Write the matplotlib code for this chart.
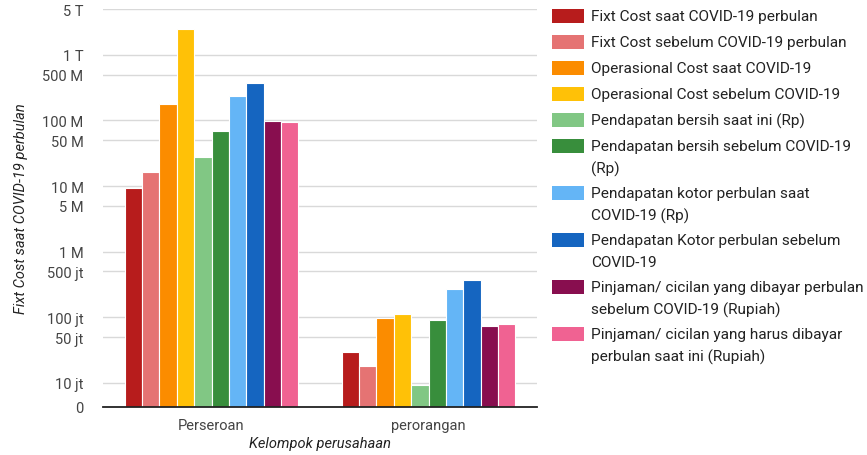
import matplotlib
matplotlib.use("Agg")
import matplotlib.pyplot as plt
from matplotlib.patches import Rectangle
import numpy as np

plt.rcParams['font.family'] = ['Roboto', 'DejaVu Sans']

# Data (Rupiah per bulan)
kelompok = ['Perseroan', 'perorangan']
seri = [
    'Fixt Cost saat COVID-19 perbulan',
    'Fixt Cost sebelum COVID-19 perbulan',
    'Operasional Cost saat COVID-19',
    'Operasional Cost sebelum COVID-19',
    'Pendapatan bersih saat ini (Rp)',
    'Pendapatan bersih sebelum COVID-19\n(Rp)',
    'Pendapatan kotor perbulan saat\nCOVID-19 (Rp)',
    'Pendapatan Kotor perbulan sebelum\nCOVID-19',
    'Pinjaman/ cicilan yang dibayar perbulan\nsebelum COVID-19 (Rupiah)',
    'Pinjaman/ cicilan yang harus dibayar\nperbulan saat ini (Rupiah)',
]
perseroan = [9.2e9, 1.63e10, 1.8e11, 2.5e12, 2.8e10, 7.0e10, 2.4e11, 3.7e11, 9.8e10, 9.5e10]
perorangan = [2.95e7, 1.83e7, 9.9e7, 1.11e8, 9.3e6, 9.0e7, 2.7e8, 3.7e8, 7.5e7, 7.8e7]
warna = ['#B71C1C', '#E57373', '#FB8C00', '#FFC107', '#81C784',
         '#388E3C', '#64B5F6', '#1565C0', '#880E4F', '#F06292']

y_bawah = 4.3e6
tick_nilai = [y_bawah, 1e7, 5e7, 1e8, 5e8, 1e9, 5e9, 1e10, 5e10, 1e11, 5e11, 1e12, 5e12]
tick_label = ['0', '10 jt', '50 jt', '100 jt', '500 jt', '1 M', '5 M',
              '10 M', '50 M', '100 M', '500 M', '1 T', '5 T']

W, H = 867, 456
fig = plt.figure(figsize=(W / 100, H / 100), dpi=100)
ax = fig.add_axes([103 / W, 1 - 408 / H, (537 - 103) / W, (408 - 10) / H])

nilai = np.array([perseroan, perorangan])  # (kelompok, seri)
lebar = 0.08
x = np.arange(len(kelompok))
for i in range(len(seri)):
    ax.bar(x + (i - 4.5) * lebar, nilai[:, i], width=lebar, color=warna[i],
           edgecolor='white', linewidth=0.8, zorder=3)

ax.set_yscale('log')
ax.set_ylim(y_bawah, 5e12)
ax.set_xlim(-0.5, 1.5)
ax.set_yticks(tick_nilai)
ax.set_yticklabels(tick_label)
ax.minorticks_off()
ax.set_xticks(x)
ax.set_xticklabels(kelompok)
ax.tick_params(length=0, labelsize=10.5, colors='#444444')
ax.tick_params(axis='y', pad=14)
ax.tick_params(axis='x', pad=8)
ax.yaxis.grid(True, color='#d9d9d9', linewidth=1, zorder=0)
for s in ['top', 'right', 'left']:
    ax.spines[s].set_visible(False)
ax.spines['bottom'].set_color('#222222')
ax.spines['bottom'].set_linewidth(1.3)
ax.spines['bottom'].set_zorder(5)

ax.set_ylabel('Fixt Cost saat COVID-19 perbulan', fontstyle='italic',
              fontsize=10.5, color='#222222', labelpad=10)
ax.set_xlabel('Kelompok perusahaan', fontstyle='italic', fontsize=10.5,
              color='#222222', labelpad=3)

# Legenda manual di kanan
y_px = 17
for i, label in enumerate(seri):
    baris = label.split('\n')
    fig.patches.append(Rectangle((552 / W, 1 - (y_px + 7) / H), 32 / W, 14 / H,
                                 transform=fig.transFigure, facecolor=warna[i],
                                 edgecolor='none'))
    for j, teks in enumerate(baris):
        fig.text(591 / W, 1 - (y_px + 22 * j) / H, teks, fontsize=11.1,
                 color='#222222', va='center', ha='left')
    y_px += 26 + 21 * (len(baris) - 1)

fig.savefig('out.png', dpi=100)
